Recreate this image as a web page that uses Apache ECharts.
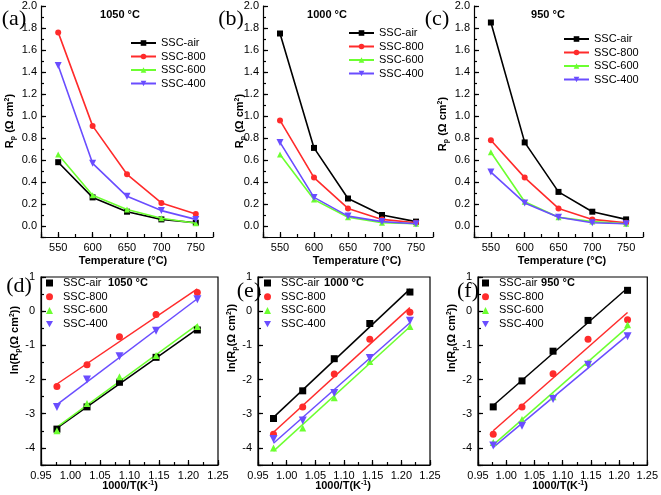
<!DOCTYPE html>
<html><head><meta charset="utf-8">
<script src="https://cdn.jsdelivr.net/npm/echarts@6/dist/echarts.min.js"></script>
<style>html,body{margin:0;padding:0;background:#fff}#c{width:661px;height:495px}</style>
</head><body><div id="c"></div>
<script>
// ---------- data ----------
const temps = [550, 600, 650, 700, 750];
const invT = [1.215, 1.145, 1.083, 1.028, 0.977];
const seriesNames = ['SSC-air', 'SSC-800', 'SSC-600', 'SSC-400'];
const panelTitles = ['1050 °C', '1000 °C', '950 °C'];
const panelLetters = ['(a)', '(b)', '(c)', '(d)', '(e)', '(f)'];
const tempTicks = [550, 600, 650, 700, 750];
const invTTicks = [0.95, 1.00, 1.05, 1.10, 1.15, 1.20, 1.25];

// Rp (ohm cm2) vs temperature
const a_air = [0.58, 0.26, 0.13, 0.06, 0.03];
const a_800 = [1.76, 0.91, 0.47, 0.21, 0.11];
const a_600 = [0.65, 0.28, 0.15, 0.07, 0.025];
const a_400 = [1.46, 0.57, 0.27, 0.14, 0.06];
const b_air = [1.75, 0.71, 0.25, 0.10, 0.04];
const b_800 = [0.96, 0.44, 0.16, 0.06, 0.03];
const b_600 = [0.65, 0.24, 0.08, 0.03, 0.02];
const b_400 = [0.76, 0.26, 0.09, 0.04, 0.02];
const c_air = [1.85, 0.76, 0.31, 0.13, 0.06];
const c_800 = [0.78, 0.44, 0.16, 0.06, 0.03];
const c_600 = [0.67, 0.22, 0.08, 0.04, 0.02];
const c_400 = [0.49, 0.21, 0.08, 0.03, 0.02];

// ln(Rp) vs 1000/T
const d_air = [-0.55, -1.35, -2.08, -2.80, -3.45];
const d_800 = [0.55, -0.10, -0.75, -1.57, -2.20];
const d_600 = [-0.45, -1.30, -1.92, -2.70, -3.50];
const d_400 = [0.35, -0.57, -1.32, -2.00, -2.80];
const e_air = [0.56, -0.36, -1.39, -2.33, -3.14];
const e_800 = [-0.03, -0.82, -1.84, -2.80, -3.60];
const e_600 = [-0.45, -1.47, -2.53, -3.42, -4.00];
const e_400 = [-0.28, -1.37, -2.39, -3.20, -3.74];
const f_air = [0.61, -0.27, -1.17, -2.04, -2.80];
const f_800 = [-0.25, -0.82, -1.83, -2.80, -3.60];
const f_600 = [-0.40, -1.50, -2.50, -3.17, -3.84];
const f_400 = [-0.73, -1.57, -2.57, -3.35, -3.93];

const topData = [[a_air, a_800, a_600, a_400], [b_air, b_800, b_600, b_400], [c_air, c_800, c_600, c_400]];
const botData = [[d_air, d_800, d_600, d_400], [e_air, e_800, e_600, e_400], [f_air, f_800, f_600, f_400]];

// ---------- styles ----------
const FONT = '"Liberation Sans", Arial, sans-serif';
const colors = ['#000000', '#ff2b2b', '#6cff30', '#6a4dff'];
const downTri = 'path://M0,0 L10,0 L5,9 Z';
const symbols = ['rect', 'circle', 'triangle', downTri];
const grids = [
  {left: 41, top: 6, width: 172, height: 231},
  {left: 263, top: 6, width: 170, height: 231},
  {left: 474, top: 6, width: 169, height: 231},
  {left: 41, top: 277, width: 177, height: 188},
  {left: 258, top: 277, width: 172, height: 188},
  {left: 478, top: 277, width: 171, height: 188}
];
const topLegendPos = [{left: 130, top: 37}, {left: 348, top: 27}, {left: 563, top: 33}];
const botLegendPos = [{left: 46, top: 277}, {left: 264, top: 277}, {left: 482, top: 277}];

const lineW = 1.2;
const xAxes = [], yAxes = [], series = [], legends = [], graphics = [];

function addAxes(p, top) {
  const baseLine = {show: true, onZero: false, lineStyle: {color: '#000', width: lineW}};
  const lab = {color: '#000', fontSize: 11, fontFamily: FONT, margin: 5};
  if (top) {
    xAxes.push({type: 'value', gridIndex: p, position: 'bottom', min: 525, max: 775, splitNumber: 5,
      axisLine: baseLine, splitLine: {show: false},
      axisTick: {inside: true, length: 5, lineStyle: {color: '#000', width: lineW}},
      axisLabel: Object.assign({}, lab, {formatter: v => tempTicks.indexOf(v) >= 0 ? String(v) : ''})});
    xAxes.push({type: 'value', gridIndex: p, position: 'bottom', min: 525, max: 775, interval: 25,
      axisLine: {show: false, onZero: false}, splitLine: {show: false}, axisLabel: {show: false},
      axisTick: {inside: true, length: 3, lineStyle: {color: '#000', width: lineW}}});
    yAxes.push({type: 'value', gridIndex: p, position: 'left', min: -0.1, max: 2.0, splitNumber: 10,
      axisLine: baseLine, splitLine: {show: false},
      axisTick: {inside: true, length: 5, lineStyle: {color: '#000', width: lineW}},
      axisLabel: Object.assign({}, lab, {margin: 4, formatter: v => v < -0.05 ? '' : v.toFixed(1)})});
    yAxes.push({type: 'value', gridIndex: p, position: 'left', min: -0.1, max: 2.0, interval: 0.1,
      axisLine: {show: false, onZero: false}, splitLine: {show: false}, axisLabel: {show: false},
      axisTick: {inside: true, length: 3, lineStyle: {color: '#000', width: lineW}}});
  } else {
    xAxes.push({type: 'value', gridIndex: p, position: 'bottom', min: 0.95, max: 1.25, interval: 0.05,
      axisLine: baseLine, splitLine: {show: false},
      axisTick: {inside: true, length: 5, lineStyle: {color: '#000', width: lineW}},
      axisLabel: Object.assign({}, lab, {formatter: v => v.toFixed(2)})});
    xAxes.push({type: 'value', gridIndex: p, position: 'bottom', min: 0.95, max: 1.25, interval: 0.025,
      axisLine: {show: false, onZero: false}, splitLine: {show: false}, axisLabel: {show: false},
      axisTick: {inside: true, length: 3, lineStyle: {color: '#000', width: lineW}}});
    yAxes.push({type: 'value', gridIndex: p, position: 'left', min: -4.5, max: 1, splitNumber: 5,
      axisLine: baseLine, splitLine: {show: false},
      axisTick: {inside: true, length: 5, lineStyle: {color: '#000', width: lineW}},
      axisLabel: Object.assign({}, lab, {margin: 6, formatter: v => Math.abs(v - Math.round(v)) > 0.01 ? '' : String(Math.round(v))})});
    yAxes.push({type: 'value', gridIndex: p, position: 'left', min: -4.5, max: 1, interval: 0.5,
      axisLine: {show: false, onZero: false}, splitLine: {show: false}, axisLabel: {show: false},
      axisTick: {inside: true, length: 3, lineStyle: {color: '#000', width: lineW}}});
  }
}

function fitLine(xs, ys) {
  const n = xs.length;
  const mx = xs.reduce((s, v) => s + v, 0) / n;
  const my = ys.reduce((s, v) => s + v, 0) / n;
  let sxy = 0, sxx = 0;
  for (let i = 0; i < n; i++) { sxy += (xs[i] - mx) * (ys[i] - my); sxx += (xs[i] - mx) * (xs[i] - mx); }
  const b = sxy / sxx, a = my - b * mx;
  const x0 = Math.min(...xs), x1 = Math.max(...xs);
  return [[x0, a + b * x0], [x1, a + b * x1]];
}

for (let p = 0; p < 6; p++) {
  const top = p < 3;
  addAxes(p, top);
  const k = p % 3;
  const names = [];
  for (let s = 0; s < 4; s++) {
    const nm = panelLetters[p] + ':' + seriesNames[s];
    names.push(nm);
    if (top) {
      series.push({type: 'line', name: nm, xAxisIndex: 2 * p, yAxisIndex: 2 * p,
        data: temps.map((t, i) => [t, topData[k][s][i]]),
        symbol: symbols[s], symbolSize: s === 3 ? 7 : 6, color: colors[s],
        lineStyle: {width: 1.6, color: colors[s]}, itemStyle: {color: colors[s]}, z: 3 + s, animation: false});
    } else {
      const ys = botData[k][s];
      series.push({type: 'line', name: nm + '-fit', xAxisIndex: 2 * p, yAxisIndex: 2 * p,
        data: fitLine(invT, ys), showSymbol: false, symbol: 'none', silent: true,
        lineStyle: {width: 1.5, color: colors[s]}, color: colors[s], z: 2, animation: false});
      series.push({type: 'scatter', name: nm, xAxisIndex: 2 * p, yAxisIndex: 2 * p,
        data: invT.map((x, i) => [x, ys[i]]), symbol: symbols[s], symbolSize: s === 3 ? 8 : 7,
        itemStyle: {color: colors[s], opacity: 1}, color: colors[s], z: 4, animation: false});
    }
  }
  const lp = top ? topLegendPos[k] : botLegendPos[k];
  legends.push({show: true, orient: 'vertical', left: lp.left, top: lp.top, padding: 0,
    itemWidth: top ? 25 : 7, itemHeight: 7, itemGap: top ? 1.5 : 1.7, selectedMode: false,
    data: names, formatter: n => n.split(':')[1],
    textStyle: {color: '#000', fontSize: 11, fontFamily: FONT, lineHeight: 12, padding: top ? 0 : [0, 0, 0, 5]}});
}

// ---------- text graphics ----------
const letterPos = [[14, 19], [231, 19], [437, 19], [19, 286], [249, 291], [468, 291]];
letterPos.forEach((q, i) => graphics.push({type: 'text', x: q[0], y: q[1], z: 100,
  style: {text: panelLetters[i], font: '22px "Liberation Serif", "Times New Roman", serif', fill: '#000', align: 'center', verticalAlign: 'middle'}}));
const titlePos = [[120, 15], [327, 15], [548, 15], [128, 283], [344, 283], [558, 283]];
titlePos.forEach((q, i) => graphics.push({type: 'text', x: q[0], y: q[1], z: 100,
  style: {text: panelTitles[i % 3], font: 'bold 11px ' + FONT, fill: '#000', align: 'center', verticalAlign: 'middle'}}));
const richY = {
  b: {fontSize: 11, fontWeight: 'bold', fontFamily: FONT, fill: '#000'},
  sub: {fontSize: 7, fontWeight: 'bold', fontFamily: FONT, fill: '#000', padding: [6, 0, 0, 0]},
  sup: {fontSize: 7, fontWeight: 'bold', fontFamily: FONT, fill: '#000', padding: [0, 0, 6, 0]}
};
const yNameTop = [[10, 121], [240, 121], [443, 124]];
yNameTop.forEach(q => graphics.push({type: 'text', x: q[0], y: q[1], rotation: Math.PI / 2, z: 100,
  style: {text: '{b|R}{sub|p}{b| (Ω cm}{sup|2}{b|)}', rich: richY, align: 'center', verticalAlign: 'middle'}}));
const yNameBot = [[15, 340], [232, 338], [452, 338]];
yNameBot.forEach(q => graphics.push({type: 'text', x: q[0], y: q[1], rotation: Math.PI / 2, z: 100,
  style: {text: '{b|ln(R}{sub|p}{b|(Ω cm}{sup|2}{b|))}', rich: richY, align: 'center', verticalAlign: 'middle'}}));
const xNameTop = [[123, 261], [357, 261], [562, 261]];
xNameTop.forEach(q => graphics.push({type: 'text', x: q[0], y: q[1], z: 100,
  style: {text: 'Temperature (°C)', font: 'bold 11px ' + FONT, fill: '#000', align: 'center', verticalAlign: 'middle'}}));
const xNameBot = [[130, 486], [343, 486], [560, 486]];
xNameBot.forEach(q => graphics.push({type: 'text', x: q[0], y: q[1], z: 100,
  style: {text: '{b|1000/T(K}{sup|-1}{b|)}', rich: richY, align: 'center', verticalAlign: 'middle'}}));

const gridOpts = grids.map((g, i) => Object.assign({}, g, i >= 3 ? {show: true, borderColor: '#000', borderWidth: lineW, backgroundColor: 'transparent'} : {show: false}));

const chart = echarts.init(document.getElementById('c'));
chart.setOption({
  animation: false,
  backgroundColor: '#fff',
  grid: gridOpts,
  xAxis: xAxes,
  yAxis: yAxes,
  legend: legends,
  series: series,
  graphic: graphics
});
</script></body></html>
